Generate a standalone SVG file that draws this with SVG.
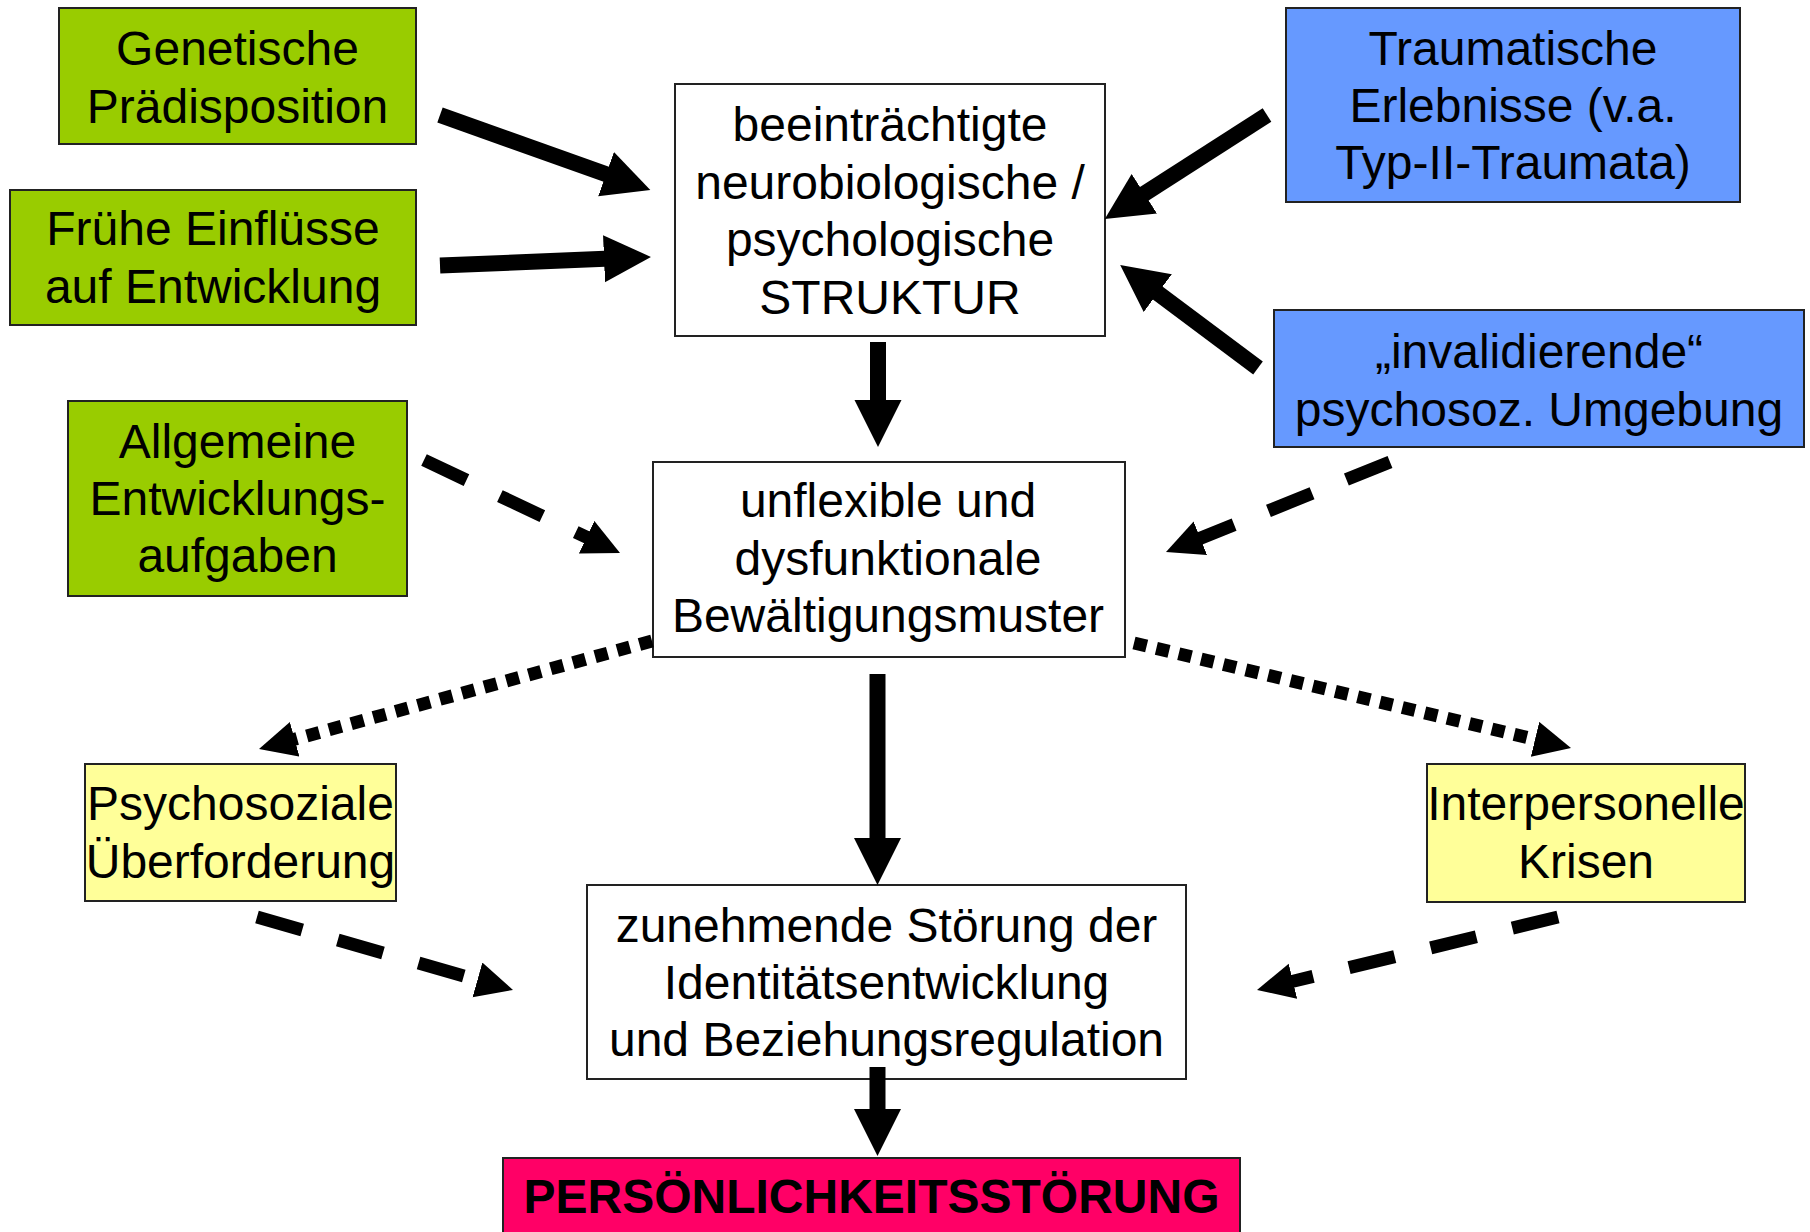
<svg xmlns="http://www.w3.org/2000/svg" width="1810" height="1232" viewBox="0 0 1810 1232">
<style>
 .box{stroke:#222;stroke-width:2}
 .green{fill:#99CC00}
 .blue{fill:#6699FF}
 .yellow{fill:#FFFF99}
 .white{fill:#FFFFFF}
 .red{fill:#FF0066}
 text{font-family:"Liberation Sans",Arial,sans-serif;font-size:48px;fill:#000;text-anchor:middle}
 .bold{font-weight:bold}
 .solid{stroke:#000;stroke-width:16;fill:none}
 .dashed{stroke:#000;stroke-width:13;stroke-dasharray:47 37;fill:none}
 .dotted{stroke:#000;stroke-width:13;stroke-dasharray:13 10;fill:none}
</style>
<defs>
 <marker id="bigHead" markerUnits="userSpaceOnUse" markerWidth="48" markerHeight="48" viewBox="0 0 48 48" refX="1" refY="23.5" orient="auto"><path d="M0,0 L47,23.5 L0,47 Z" fill="#000"/></marker>
 <marker id="smallHead" markerUnits="userSpaceOnUse" markerWidth="38" markerHeight="38" viewBox="0 0 38 38" refX="1" refY="18" orient="auto"><path d="M0,0 L37,18 L0,36 Z" fill="#000"/></marker>
</defs>
<rect x="0" y="0" width="1810" height="1232" fill="#FFFFFF"/>

<g id="genetische">
 <rect class="box green" x="59" y="8" width="357" height="136"/>
 <text x="237.5" y="65">Genetische</text>
 <text x="237.5" y="123">Prädisposition</text>
</g>
<g id="fruehe">
 <rect class="box green" x="10" y="190" width="406" height="135"/>
 <text x="213" y="245">Frühe Einflüsse</text>
 <text x="213" y="303">auf Entwicklung</text>
</g>
<g id="allgemeine">
 <rect class="box green" x="68" y="401" width="339" height="195"/>
 <text x="237.5" y="458">Allgemeine</text>
 <text x="237.5" y="515">Entwicklungs-</text>
 <text x="237.5" y="572">aufgaben</text>
</g>
<g id="struktur">
 <rect class="box white" x="675" y="84" width="430" height="252"/>
 <text x="890" y="141">beeinträchtigte</text>
 <text x="890" y="198.5">neurobiologische /</text>
 <text x="890" y="256">psychologische</text>
 <text x="890" y="313.5">STRUKTUR</text>
</g>
<g id="trauma">
 <rect class="box blue" x="1286" y="8" width="454" height="194"/>
 <text x="1513" y="65">Traumatische</text>
 <text x="1513" y="122">Erlebnisse (v.a.</text>
 <text x="1513" y="179">Typ-II-Traumata)</text>
</g>
<g id="invalidierend">
 <rect class="box blue" x="1274" y="310" width="530" height="137"/>
 <text x="1539" y="368">„invalidierende“</text>
 <text x="1539" y="426">psychosoz. Umgebung</text>
</g>
<g id="bewaeltigung">
 <rect class="box white" x="653" y="462" width="472" height="195"/>
 <text x="888" y="517">unflexible und</text>
 <text x="888" y="575">dysfunktionale</text>
 <text x="888" y="632">Bewältigungsmuster</text>
</g>
<g id="psychosozial">
 <rect class="box yellow" x="85" y="764" width="311" height="137"/>
 <text x="240.5" y="820">Psychosoziale</text>
 <text x="240.5" y="878">Überforderung</text>
</g>
<g id="interpersonell">
 <rect class="box yellow" x="1427" y="764" width="318" height="138"/>
 <text x="1586" y="820">Interpersonelle</text>
 <text x="1586" y="878">Krisen</text>
</g>
<g id="identitaet">
 <rect class="box white" x="587" y="885" width="599" height="194"/>
 <text x="886.5" y="942">zunehmende Störung der</text>
 <text x="886.5" y="999">Identitätsentwicklung</text>
 <text x="886.5" y="1056">und Beziehungsregulation</text>
</g>
<g id="persoenlichkeitsstoerung">
 <rect class="box red" x="503" y="1158" width="737" height="95"/>
 <text class="bold" x="871.5" y="1213">PERSÖNLICHKEITSSTÖRUNG</text>
</g>

<g id="connectors">
 <line class="solid" x1="440" y1="115" x2="607" y2="174.5" marker-end="url(#bigHead)"/>
 <line class="solid" x1="440" y1="265.5" x2="605" y2="258.8" marker-end="url(#bigHead)"/>
 <line class="solid" x1="1267" y1="115" x2="1143.5" y2="194.2" marker-end="url(#bigHead)"/>
 <line class="solid" x1="1258" y1="368" x2="1157" y2="292.5" marker-end="url(#bigHead)"/>
 <line class="solid" x1="878" y1="342" x2="878" y2="401" marker-end="url(#bigHead)"/>
 <line class="solid" x1="877.5" y1="674" x2="877.5" y2="839" marker-end="url(#bigHead)"/>
 <line class="solid" x1="877.5" y1="1067" x2="877.5" y2="1110" marker-end="url(#bigHead)"/>

 <line class="dashed" x1="424" y1="460" x2="587.5" y2="537.6" marker-end="url(#smallHead)"/>
 <line class="dashed" x1="1390" y1="462" x2="1199.4" y2="538.6" marker-end="url(#smallHead)"/>
 <line class="dashed" x1="257" y1="917" x2="478.4" y2="980.1" marker-end="url(#smallHead)"/>
 <line class="dashed" x1="1558" y1="917" x2="1292" y2="981.5" marker-end="url(#smallHead)"/>

 <line class="dotted" x1="652" y1="641" x2="293.7" y2="739.5" marker-end="url(#smallHead)"/>
 <line class="dotted" x1="1134" y1="643" x2="1536" y2="739.6" marker-end="url(#smallHead)"/>
</g>
</svg>
